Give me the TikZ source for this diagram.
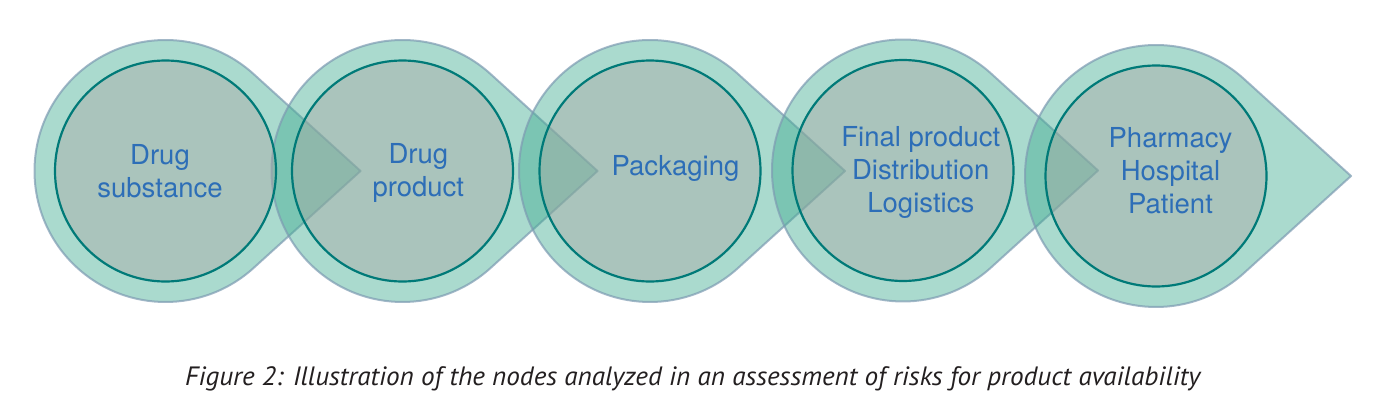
\documentclass[tikz,border=0pt]{standalone}
\usepackage{graphicx}
\usepackage{fontspec}
\setmainfont{TeX Gyre Heros}
\newfontfamily\capfont{PT Sans}
\definecolor{dropfill}{RGB}{67,173,147}
\definecolor{dropline}{RGB}{125,155,178}
\definecolor{corefill}{RGB}{172,165,161}
\definecolor{coreline}{RGB}{0,122,120}
\definecolor{labelblue}{RGB}{45,110,183}
\definecolor{captext}{RGB}{35,31,32}
\tikzset{
  drop/.style={fill=dropfill, fill opacity=0.45, draw=dropline, draw opacity=0.7, line width=2pt, line join=round},
  core/.style={circle, minimum size=221pt, inner sep=0pt, fill=corefill, fill opacity=0.4, draw=coreline, draw opacity=1, line width=2.2pt},
  lbl/.style={align=center, text=labelblue, font=\fontsize{27.5}{33}\selectfont, inner sep=0pt},
  capstyle/.style={anchor=base west, inner sep=0pt, text=captext, font=\capfont\itshape\fontsize{26.5}{30}\selectfont},
}
\begin{document}
\begin{tikzpicture}[x=1pt,y=1pt]
\fill[white] (0,0) rectangle (1376,408);
\useasboundingbox (0,0) rectangle (1376,408);
\coordinate (c1) at (165.5,237);
\coordinate (c2) at (402.5,237);
\coordinate (c3) at (650,237);
\coordinate (c4) at (903,237.5);
\coordinate (c5) at (1156,232);
\foreach \c in {c1,c2,c3,c4,c5}{
  \draw[drop] ([shift={(\c)}]0:195pt) -- ([shift={(\c)}]47.8:131pt)
     arc[start angle=47.8, end angle=312.2, radius=131pt] -- cycle;
}
\node[core] (n1) at (c1) {};
\node[core] (n2) at (c2) {};
\node[core] (n3) at (c3) {};
\node[core] (n4) at (c4) {};
\node[core] (n5) at (c5) {};
\node[lbl] (t1) at (160,234.1) {\strut Drug\\\strut substance};
\node[lbl] (t2) at (418.3,234.8) {\strut Drug\\\strut product};
\node[lbl] (t3) at (675.5,239.6) {\strut Packaging};
\node[lbl] (t4) at (920.8,235.6) {\strut Final product\\\strut Distribution\\\strut Logistics};
\node[lbl] (t5) at (1170.5,234.3) {\strut Pharmacy\\\strut Hospital\\\strut Patient};
\node[capstyle] (cap) at (185,22.3) {\resizebox{1015pt}{\height}{Figure 2: Illustration of the nodes analyzed in an assessment of risks for product availability}};
\end{tikzpicture}
\end{document}
